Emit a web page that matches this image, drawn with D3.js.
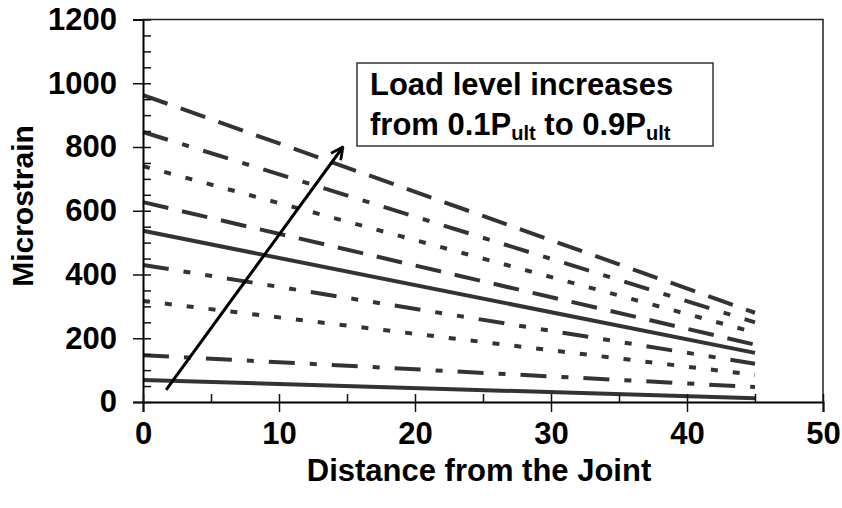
<!DOCTYPE html>
<html>
<head>
<meta charset="utf-8">
<script src="https://cdn.jsdelivr.net/npm/d3@7"></script>
<style>
  body { margin: 0; background: #fff; }
  text { font-family: "Liberation Sans", Arial, sans-serif; font-weight: bold; fill: #000; }
</style>
</head>
<body>
<svg id="chart" width="842" height="508"></svg>
<script>
// ── Data ───────────────────────────────────────────────────────────────────
const distances     = [0, 45];
const loadLevels    = ['0.1', '0.2', '0.3', '0.4', '0.5', '0.6', '0.7', '0.8', '0.9'];
const strainAtJoint = [69, 147, 317, 430, 537, 627, 740, 847, 963];
const strainAtEnd   = [12, 47, 85, 120, 154, 180, 218, 250, 280];
const lineStyles    = ['solid', 'longDashDot', 'dash', 'longDashDotDot', 'solid',
                       'longDash', 'dash', 'longDashDot', 'longDash'];
const xMajorTicks   = [0, 10, 20, 30, 40, 50];
const xMinorTicks   = [5, 15, 25, 35, 45];
const yMajorTicks   = [0, 200, 400, 600, 800, 1000, 1200];
const yMinorTicks   = d3.range(0, 1201, 50);
const arrowFrom     = [1.7, 38];
const arrowTo       = [14.7, 800];

const DASH = {
  solid: null,
  dash: '7 15',
  longDash: '26 14',
  longDashDot: '26 15 7 15',
  longDashDotDot: '26 15 7 15 7 15'
};

const series = loadLevels.map((lvl, i) => ({
  level: lvl,
  style: lineStyles[i],
  points: [[distances[0], strainAtJoint[i]], [distances[1], strainAtEnd[i]]]
}));

// ── Setup ──────────────────────────────────────────────────────────────────
const svg = d3.select('#chart');
const x = d3.scaleLinear().domain([0, 50]).range([143, 823]);
const y = d3.scaleLinear().domain([0, 1200]).range([402, 19.5]);
const FONT = 31;

const defs = svg.append('defs');
defs.append('marker')
  .attr('id', 'arrow-head').attr('viewBox', '0 0 14 14')
  .attr('refX', 13).attr('refY', 7)
  .attr('markerWidth', 14).attr('markerHeight', 14)
  .attr('markerUnits', 'userSpaceOnUse')
  .attr('orient', 'auto')
  .append('path').attr('d', 'M1 1L13 7L1 13')
  .attr('fill', 'none').attr('stroke', '#000')
  .attr('stroke-width', 2.8).attr('stroke-linejoin', 'miter');

// frame (top + right)
svg.append('path')
  .attr('d', `M${x(0)},${y(1200)}H${x(50)}V${y(0)}`)
  .attr('fill', 'none').attr('stroke', '#222').attr('stroke-width', 1.5);

// ── Series lines ───────────────────────────────────────────────────────────
const line = d3.line().x(d => x(d[0])).y(d => y(d[1]));
svg.append('g').selectAll('path')
  .data(series)
  .join('path')
    .attr('d', d => line(d.points))
    .attr('fill', 'none')
    .attr('stroke', '#333')
    .attr('stroke-width', 4)
    .attr('stroke-dasharray', d => DASH[d.style]);

// ── Axes ───────────────────────────────────────────────────────────────────
const yOut = svg.append('g').attr('transform', `translate(${x(0)},0)`)
  .call(d3.axisLeft(y).tickValues(yMajorTicks).tickFormat(d3.format('d'))
    .tickSize(10).tickPadding(16));
const yIn = svg.append('g').attr('transform', `translate(${x(0)},0)`)
  .call(d3.axisRight(y).tickValues(yMinorTicks).tickSize(8).tickFormat(''));
const xOut = svg.append('g').attr('transform', `translate(0,${y(0)})`)
  .call(d3.axisBottom(x).tickValues(xMajorTicks).tickFormat(d3.format('d'))
    .tickSize(10).tickPadding(10));
const xIn = svg.append('g').attr('transform', `translate(0,${y(0)})`)
  .call(d3.axisTop(x).tickValues(xMajorTicks.concat(xMinorTicks)).tickSize(8).tickFormat(''));

[yOut, yIn, xOut, xIn].forEach(g => {
  g.selectAll('.tick line').attr('stroke', '#111').attr('stroke-width', 1.5);
  g.selectAll('text').attr('font-size', FONT).attr('fill', '#000')
    .attr('font-family', '"Liberation Sans", Arial, sans-serif').attr('font-weight', 'bold');
});
yIn.select('.domain').remove();
xIn.select('.domain').remove();
yOut.select('.domain').attr('stroke', '#000').attr('stroke-width', 2);
xOut.select('.domain').attr('stroke', '#000').attr('stroke-width', 2);

// axis titles
svg.append('text')
  .attr('x', 479).attr('y', 481)
  .attr('text-anchor', 'middle').attr('font-size', FONT)
  .text('Distance from the Joint');
svg.append('text')
  .attr('transform', 'translate(33,206) rotate(-90)')
  .attr('text-anchor', 'middle').attr('font-size', 30)
  .text('Microstrain');

// ── Annotation ─────────────────────────────────────────────────────────────
svg.append('line')
  .attr('x1', x(arrowFrom[0])).attr('y1', y(arrowFrom[1]))
  .attr('x2', x(arrowTo[0])).attr('y2', y(arrowTo[1]))
  .attr('stroke', '#000').attr('stroke-width', 3)
  .attr('marker-end', 'url(#arrow-head)');

svg.append('rect')
  .attr('x', 357).attr('y', 63).attr('width', 356).attr('height', 83)
  .attr('fill', '#fff').attr('stroke', '#333').attr('stroke-width', 1.5);

const note = svg.append('text').attr('font-size', 31);
note.append('tspan').attr('x', 370).attr('y', 95).text('Load level increases');
const l2 = svg.append('text').attr('x', 370).attr('y', 135).attr('font-size', 31);
l2.append('tspan').text('from ' + loadLevels[0] + 'P');
l2.append('tspan').attr('font-size', 20).attr('dy', 5).text('ult');
l2.append('tspan').attr('dy', -5).text(' to ' + loadLevels[8] + 'P');
l2.append('tspan').attr('font-size', 20).attr('dy', 5).text('ult');
</script>
</body>
</html>
